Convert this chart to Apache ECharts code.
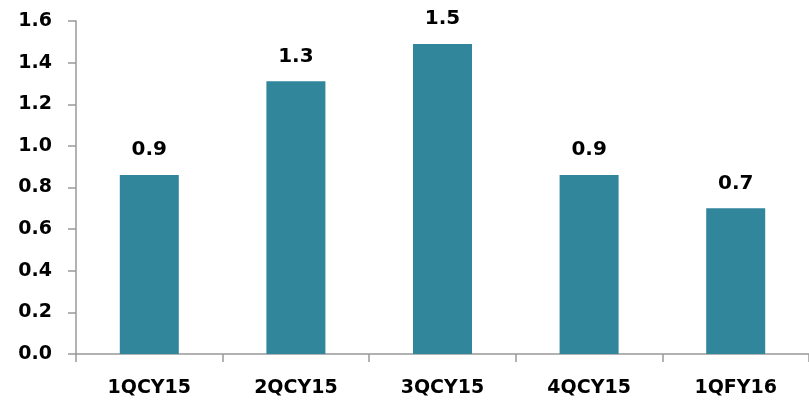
<!DOCTYPE html>
<html>
<head>
<meta charset="utf-8">
<script src="https://cdn.jsdelivr.net/npm/echarts@6/dist/echarts.min.js"></script>
<style>html,body{margin:0;padding:0;background:#fff}#c{width:809px;height:400px}</style>
</head>
<body>
<div id="c"></div>
<script>
var categories = ['1QCY15', '2QCY15', '3QCY15', '4QCY15', '1QFY16'];
var values = [0.86, 1.31, 1.49, 0.86, 0.70];
var yTicks = { min: 0, max: 1.6, interval: 0.2 };

var FONT = 'DejaVu Sans';
var chart = echarts.init(document.getElementById('c'));
chart.setOption({
  animation: false,
  grid: { left: 76, top: 21, bottom: 46, width: 745, containLabel: false },
  xAxis: {
    type: 'category',
    data: categories,
    axisLine: { lineStyle: { color: '#999', width: 1.5 } },
    axisTick: { show: true, length: 8, alignWithLabel: false, lineStyle: { color: '#999', width: 1.5 } },
    axisLabel: { margin: 25, color: '#000', fontFamily: FONT, fontWeight: 'bold', fontSize: 19 }
  },
  yAxis: {
    type: 'value',
    min: yTicks.min, max: yTicks.max, interval: yTicks.interval,
    axisLine: { show: true, lineStyle: { color: '#999', width: 1.5 } },
    axisTick: { show: true, length: 8, lineStyle: { color: '#999', width: 1.5 } },
    splitLine: { show: false },
    axisLabel: { margin: 24, color: '#000', fontFamily: FONT, fontWeight: 'bold', fontSize: 19,
      formatter: function (v) { return v.toFixed(1); } }
  },
  series: [{
    type: 'bar',
    data: values,
    barWidth: 59,
    itemStyle: { color: '#31869B' },
    label: {
      show: true, position: 'top', distance: 15,
      color: '#000', fontFamily: FONT, fontWeight: 'bold', fontSize: 20,
      formatter: function (p) { return p.value.toFixed(1); }
    }
  }]
});
</script>
</body>
</html>
